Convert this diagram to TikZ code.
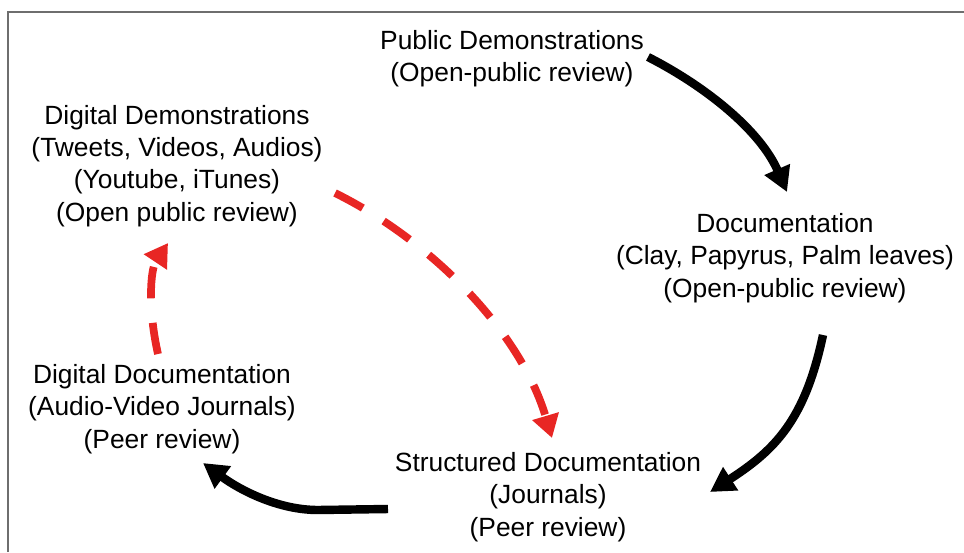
\documentclass[tikz,border=0pt]{standalone}
\usepackage{fontspec}
\setmainfont{Liberation Sans}
\usetikzlibrary{arrows.meta}
\definecolor{dashred}{RGB}{232,38,36}
\definecolor{framegray}{RGB}{110,110,110}
\begin{document}
\begin{tikzpicture}[x=0.02cm,y=-0.02cm,
    lbl/.style={align=center,inner sep=0pt,font=\fontsize{15}{18.4}\selectfont},
    flow/.style={line width=4.8pt,-{Triangle[length=14pt,width=15pt]}},
    web/.style={dashred,line width=4.4pt,dash pattern=on 18pt off 14pt,-{Triangle[length=13pt,width=15pt]}}]

            \useasboundingbox (0,0) rectangle (964,552);
            \draw[framegray,line width=1.1pt] (8,552) -- (8,12) -- (964,12);

                    \node[lbl] (pub) at (512,59) {Public Demonstrations\\(Open-public review)};
                    \node[lbl] (doc) at (785,258) {Documentation\\(Clay, Papyrus, Palm leaves)\\(Open-public review)};
                    \node[lbl] (struct) at (548,497) {Structured Documentation\\(Journals)\\(Peer review)};
                    \node[lbl] (digdoc) at (162,409) {Digital Documentation\\(Audio-Video Journals)\\(Peer review)};
                    \node[lbl] (digdem) at (177,166) {Digital Demonstrations\\(Tweets, Videos, Audios)\\(Youtube, iTunes)\\(Open public review)};

                    \coordinate (pubout) at (648,57);
                    \coordinate (docin) at (787,192);
                    \coordinate (docout) at (823,335);
                    \coordinate (structin) at (710,492);
                    \coordinate (structout) at (388,509);
                    \coordinate (digdocin) at (203,463);
                    \coordinate (digdocout) at (158,354);
                    \coordinate (digdemin) at (168,243);
                    \coordinate (digdemout) at (335,193);
                    \coordinate (structtop) at (552,438);

                    \draw[flow] (pubout) .. controls (705,86) and (760,130) .. (docin);
                    \draw[flow] (docout) .. controls (805,420) and (775,450) .. (structin);
                    \draw[flow] (structout) -- (318,510) .. controls (278,510) and (240,490) .. (digdocin);
                    \draw[web] (digdocout) .. controls (148,310) and (150,270) .. (digdemin);
                    \draw[web] (digdemout) .. controls (430,240) and (520,330) .. (structtop);

                    \end{tikzpicture}
\end{document}
